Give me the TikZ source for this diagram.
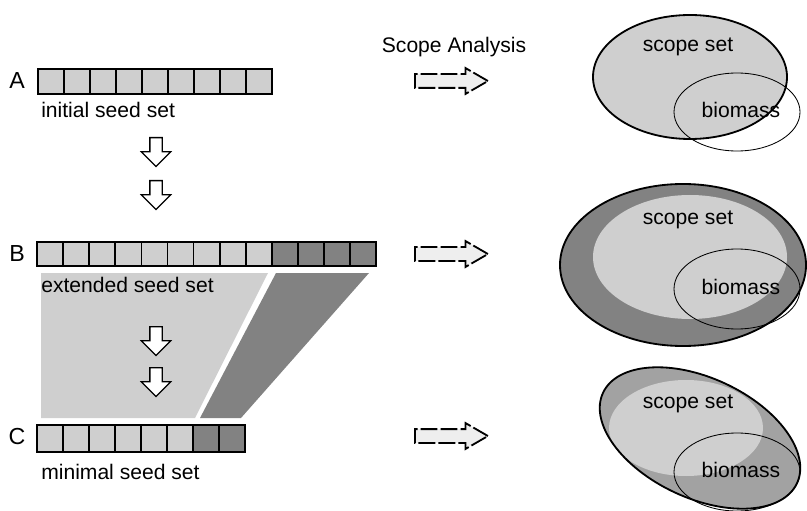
\documentclass[tikz,border=0pt]{standalone}
\usepackage{fontspec}
\setmainfont{Liberation Sans}
\usepackage{tikz}
\usetikzlibrary{shapes.arrows, positioning}
\definecolor{lightgray}{HTML}{CFCFCF}
\definecolor{darkgray}{HTML}{828282}
\definecolor{midgray}{HTML}{A2A2A2}
\definecolor{paleg}{HTML}{EEEEEE}
\tikzstyle{cell} = [draw=black, line width=1.2pt]
\tikzstyle{txt} = [font=\fontsize{15}{18}\selectfont, inner sep=0pt]
\tikzstyle{letter} = [font=\fontsize{16.5}{18}\selectfont, inner sep=0pt]
\tikzstyle{downarrow} = [single arrow, draw, line width=0.9pt, fill=white,
  inner sep=0.1375cm, single arrow head extend=0.2125cm,
  minimum height=0.72cm, anchor=tail, shape border rotate=270]
\tikzstyle{scopearrow} = [single arrow, draw, line width=1.3pt,
  dash pattern=on 12pt off 2.2pt, fill=paleg, inner sep=0.15cm,
  single arrow head extend=0.15cm, single arrow tip angle=60,
  minimum height=1.825cm, anchor=tail]
\tikzstyle{border} = [line width=1.3pt]
\tikzstyle{biomass} = [line width=0.6pt]

\begin{document}
\begin{tikzpicture}[x=0.025cm, y=-0.025cm]
  \useasboundingbox (0,0) rectangle (807,511);

  % seed sets
  \node[letter] (labA) at (17,81) {A};
  \foreach \i in {0,...,8}
    \draw[cell, fill=lightgray] ({38+26*\i},69) rectangle +(26,25);
  \node[txt, anchor=west] (initial) at (41,110) {initial seed set};

  \node[downarrow] (down1) at (156,137) {};
  \node[downarrow] (down2) at (156,180) {};

  \fill[lightgray] (41,273) -- (268,273) -- (195,418) -- (41,418) -- cycle;
  \fill[darkgray] (276,273) -- (369,273) -- (241,418) -- (200,418) -- cycle;

  \node[letter] (labB) at (17,254) {B};
  \foreach \i in {0,...,8}
    \draw[cell, fill=lightgray] ({37+26.1*\i},242) rectangle +(26.1,24);
  \foreach \i in {9,...,12}
    \draw[cell, fill=darkgray] ({37+26.1*\i},242) rectangle +(26.1,24);
  \node[txt, anchor=west] (extended) at (41,285) {extended seed set};

  \node[downarrow] (down3) at (156,326) {};
  \node[downarrow] (down4) at (156,367) {};

  \node[letter] (labC) at (17,437) {C};
  \foreach \i in {0,...,5}
    \draw[cell, fill=lightgray] ({37+26*\i},425) rectangle +(26,27);
  \foreach \i in {6,7}
    \draw[cell, fill=darkgray] ({37+26*\i},425) rectangle +(26,27);
  \node[txt, anchor=west] (minimal) at (41,472) {minimal seed set};

  % scope analysis
  \node[txt] (analysis) at (454,47) {Scope Analysis};
  \node[scopearrow] (scopeA) at (414,81) {};
  \node[scopearrow] (scopeB) at (414,254) {};
  \node[scopearrow] (scopeC) at (414,436) {};

  % scopes
  \filldraw[border, fill=lightgray] (690,77) ellipse (97 and 62);
  \draw[biomass] (737,112) ellipse (63 and 39);
  \node[txt] (scopesetA) at (688,47) {scope set};
  \node[txt] (biomassA) at (741,110) {biomass};

  \filldraw[border, fill=darkgray] (683,265) ellipse (123 and 81);
  \fill[lightgray] (690,257) ellipse (97 and 62);
  \draw[biomass] (737,289) ellipse (63 and 40);
  \node[txt] (scopesetB) at (688,220) {scope set};
  \node[txt] (biomassB) at (741,287) {biomass};

  \fill[midgray, rotate around={-25:(700,438)}] (700,438) ellipse (107 and 60);
  \begin{scope}
    \clip[rotate around={-25:(700,438)}] (700,438) ellipse (107 and 60);
    \fill[lightgray] (686,428) ellipse (77 and 48);
  \end{scope}
  \draw[border, rotate around={-25:(700,438)}] (700,438) ellipse (107 and 60);
  \draw[biomass] (737,472) ellipse (63 and 39);
  \node[txt] (scopesetC) at (688,404) {scope set};
  \node[txt] (biomassC) at (741,470) {biomass};
\end{tikzpicture}
\end{document}
